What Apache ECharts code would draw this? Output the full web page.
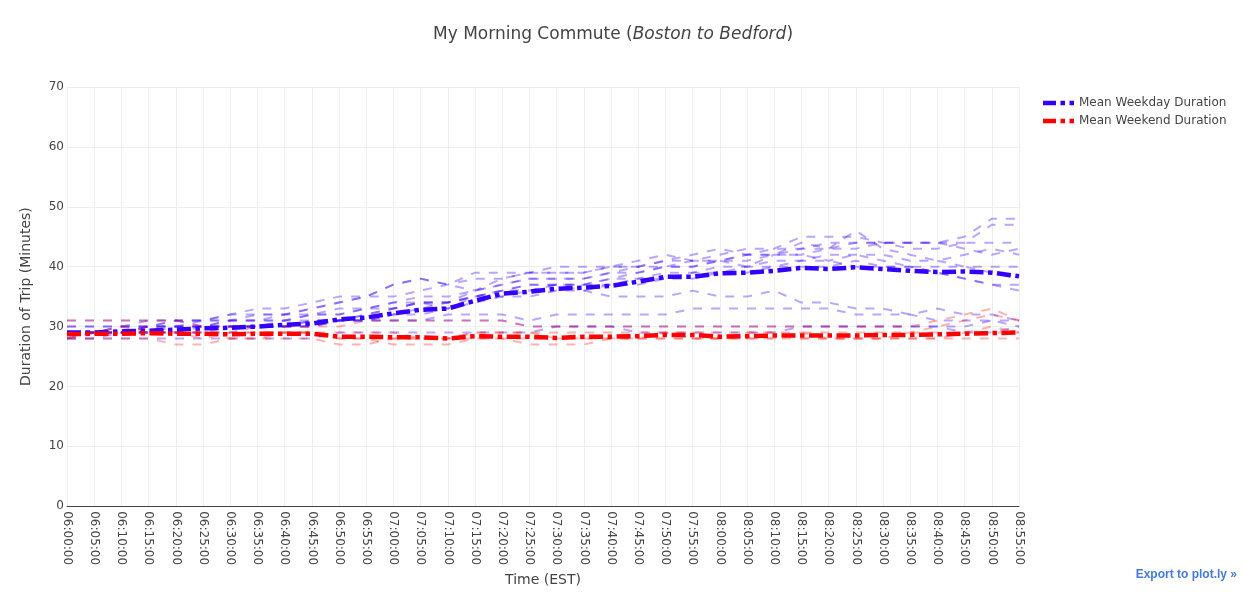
<!DOCTYPE html>
<html>
<head>
<meta charset="utf-8">
<script src="https://cdn.jsdelivr.net/npm/echarts@6/dist/echarts.min.js"></script>
<style>html,body{margin:0;padding:0;background:#fff}#c{width:1245px;height:592px}</style>
</head>
<body>
<div id="c"></div>
<script>
var times = ['06:00:00','06:05:00','06:10:00','06:15:00','06:20:00','06:25:00','06:30:00','06:35:00','06:40:00','06:45:00','06:50:00','06:55:00','07:00:00','07:05:00','07:10:00','07:15:00','07:20:00','07:25:00','07:30:00','07:35:00','07:40:00','07:45:00','07:50:00','07:55:00','08:00:00','08:05:00','08:10:00','08:15:00','08:20:00','08:25:00','08:30:00','08:35:00','08:40:00','08:45:00','08:50:00','08:55:00'];
var yTicks = [0,10,20,30,40,50,60,70];

var weekdayMean = [29.0,29.0,29.2,29.3,29.5,29.7,29.8,30.0,30.3,30.5,31.2,31.5,32.2,32.8,33.0,34.3,35.5,35.8,36.3,36.5,36.8,37.5,38.3,38.3,38.9,39.0,39.3,39.8,39.6,39.9,39.6,39.3,39.1,39.2,39.0,38.4];
var weekendMean = [28.7,28.8,28.8,28.9,28.8,28.8,28.7,28.8,28.8,28.8,28.3,28.3,28.2,28.2,28.0,28.4,28.3,28.3,28.1,28.3,28.3,28.4,28.6,28.6,28.3,28.4,28.5,28.5,28.5,28.5,28.6,28.6,28.7,28.8,28.9,29.0];

var wd1 = [30,30,30,31,31,31,32,32,32,33,34,35,35,36,37,38,38,39,39,39,40,40,41,41,41,42,42,43,43,43,44,44,44,45,48,48];
var wd2 = [29,29,29,30,30,30,31,31,31,32,32,33,33,34,34,36,37,38,38,38,39,39,40,40,41,41,42,42,43,44,44,44,44,44,47,47];
var wd3 = [29,29,30,30,31,31,31,32,32,33,34,35,37,38,37,39,39,39,40,40,40,41,42,41,42,43,43,45,45,45,44,43,43,44,44,44];
var wd4 = [30,30,30,30,30,31,31,31,31,32,32,33,34,35,35,36,37,38,38,38,39,40,41,42,43,42,43,43,44,44,44,44,44,43,42,43];
var wd5 = [28,28,29,29,29,29,30,30,30,31,31,31,32,33,34,35,36,37,37,37,38,39,40,40,41,42,42,44,43,46,43,42,41,42,43,42];
var wd6 = [29,29,29,29,30,30,30,30,30,30,31,32,33,34,33,35,36,36,37,37,38,38,39,39,40,40,41,41,42,42,42,41,41,40,40,40];
var wd7 = [28,29,29,29,29,29,29,30,30,30,31,31,32,32,33,34,35,35,36,36,37,37,38,38,39,39,40,40,40,41,40,40,39,38,37,37];
var wd8 = [29,29,29,30,30,30,30,30,31,31,31,32,33,34,34,35,35,36,37,37,37,38,38,39,39,40,40,41,41,40,40,40,39,38,37,36];
var wd9 = [29,29,30,30,31,31,32,33,33,34,35,35,37,38,37,36,38,39,39,39,40,40,40,41,41,40,42,42,41,42,41,40,40,40,39,38];
var wd10 = [29,29,29,30,30,30,31,31,32,32,33,33,34,34,34,35,36,37,37,36,35,35,35,36,35,35,36,34,34,33,33,32,33,32,32,31];
var wd11 = [29,29,29,29,29,30,30,30,30,30,31,31,31,31,32,32,32,31,32,32,32,32,32,33,33,33,33,33,33,32,32,32,31,31,31,30];
var wd12 = [31,31,31,31,31,30,30,30,30,31,31,31,31,31,31,31,31,30,30,30,30,30,30,30,30,30,30,30,30,30,30,30,30,29,29,30];
var wd13 = [28,28,28,28,28,28,28,28,28,28,29,29,29,29,29,29,29,29,30,30,30,29,29,29,29,29,29,30,30,30,30,30,30,30,31,31];

var we1 = [31,31,31,31,31,30,30,30,30,30,30,31,31,31,31,31,31,30,30,30,30,30,30,30,30,30,30,30,30,30,30,30,31,32,33,31];
var we2 = [28,28,28,28,27,27,28,28,29,29,28,28,27,27,27,28,28,27,27,27,28,28,28,28,28,28,28,28,28,28,28,28,28,28,28,28];
var we3 = [29,29,29,29,29,29,29,29,29,29,28,28,28,28,28,28,28,28,28,28,28,28,29,28,28,28,28,29,29,29,29,29,29,29,30,29];
var we4 = [28,29,29,30,29,29,28,28,28,28,27,27,28,28,28,29,29,29,28,28,28,28,28,28,28,29,29,29,28,28,28,29,30,31,32,31];
var we5 = [29,29,30,29,29,28,29,29,29,29,29,29,29,28,28,29,29,29,29,29,29,29,29,29,29,29,29,28,28,28,28,28,28,29,29,29];

var weekdayDays = [wd1,wd2,wd3,wd4,wd5,wd6,wd7,wd8,wd9,wd10,wd11,wd12,wd13];
var weekendDays = [we1,we2,we3,we4,we5];

var FONT = '"DejaVu Sans", Verdana, sans-serif';
var DASHDOT_ICON = 'path://M0,0h13v4.5h-13z M17.5,0h4.5v4.5h-4.5z M26.5,0h4.5v4.5h-4.5z';
var series = [];
weekdayDays.forEach(function (d, i) {
  series.push({
    name: 'wd' + (i + 1), type: 'line', data: d, symbol: 'none', silent: true, z: 1,
    lineStyle: { color: 'rgba(51,0,255,0.35)', width: 2, type: [9, 9] }
  });
});
weekendDays.forEach(function (d, i) {
  series.push({
    name: 'we' + (i + 1), type: 'line', data: d, symbol: 'none', silent: true, z: 1,
    lineStyle: { color: 'rgba(255,0,0,0.3)', width: 2, type: [9, 9] }
  });
});
series.push({
  name: 'Mean Weekday Duration', type: 'line', data: weekdayMean, symbol: 'none', z: 3,
  itemStyle: { color: 'rgb(51,0,255)' },
  lineStyle: { color: 'rgb(51,0,255)', width: 4.5, type: [14, 4.5, 4.5, 4.5] }
});
series.push({
  name: 'Mean Weekend Duration', type: 'line', data: weekendMean, symbol: 'none', z: 3,
  itemStyle: { color: 'rgb(255,0,0)' },
  lineStyle: { color: 'rgb(255,0,0)', width: 4.5, type: [14, 4.5, 4.5, 4.5] }
});

var chart = echarts.init(document.getElementById('c'));
chart.setOption({
  animation: false,
  textStyle: { fontFamily: FONT },
  title: {
    text: '{a|My Morning Commute (}{b|Boston to Bedford}{a|)}',
    left: 428, top: 21,
    textStyle: {
      fontWeight: 'normal',
      rich: {
        a: { fontSize: 17, color: '#444', fontWeight: 'normal', fontFamily: FONT },
        b: { fontSize: 17, color: '#444', fontWeight: 'normal', fontStyle: 'italic', fontFamily: FONT }
      }
    }
  },
  legend: {
    data: [
      { name: 'Mean Weekday Duration', icon: DASHDOT_ICON },
      { name: 'Mean Weekend Duration', icon: DASHDOT_ICON }
    ],
    orient: 'vertical', left: 1038, top: 92, itemGap: 6,
    itemWidth: 31, itemHeight: 5,
    textStyle: { fontSize: 12, color: '#444', fontFamily: FONT },
    selectedMode: false
  },
  grid: { left: 67, right: 226, top: 87, bottom: 85, containLabel: false },
  xAxis: {
    type: 'category', data: times, boundaryGap: false,
    name: 'Time (EST)', nameLocation: 'middle', nameGap: 65,
    nameTextStyle: { fontSize: 14, color: '#444', fontFamily: FONT },
    axisLine: { show: true, lineStyle: { color: '#444', width: 1 } },
    axisTick: { show: false },
    axisLabel: { rotate: -90, fontSize: 12, color: '#444', margin: 5, interval: 0, fontFamily: FONT },
    splitLine: { show: true, lineStyle: { color: '#eee', width: 1 } }
  },
  yAxis: {
    type: 'value', min: yTicks[0], max: yTicks[yTicks.length - 1], interval: 10,
    name: 'Duration of Trip (Minutes)', nameLocation: 'middle', nameGap: 34,
    nameTextStyle: { fontSize: 14, color: '#444', fontFamily: FONT },
    axisLine: { show: false }, axisTick: { show: false },
    axisLabel: { fontSize: 12, color: '#444', margin: 3, fontFamily: FONT },
    splitLine: { show: true, lineStyle: { color: '#eee', width: 1 } }
  },
  graphic: [{
    type: 'text', right: 8, top: 569,
    style: { text: 'Export to plot.ly \u00bb', fill: '#447adb', font: 'bold 12px Arial, "Liberation Sans", sans-serif' }
  }],
  series: series
});
</script>
</body>
</html>
